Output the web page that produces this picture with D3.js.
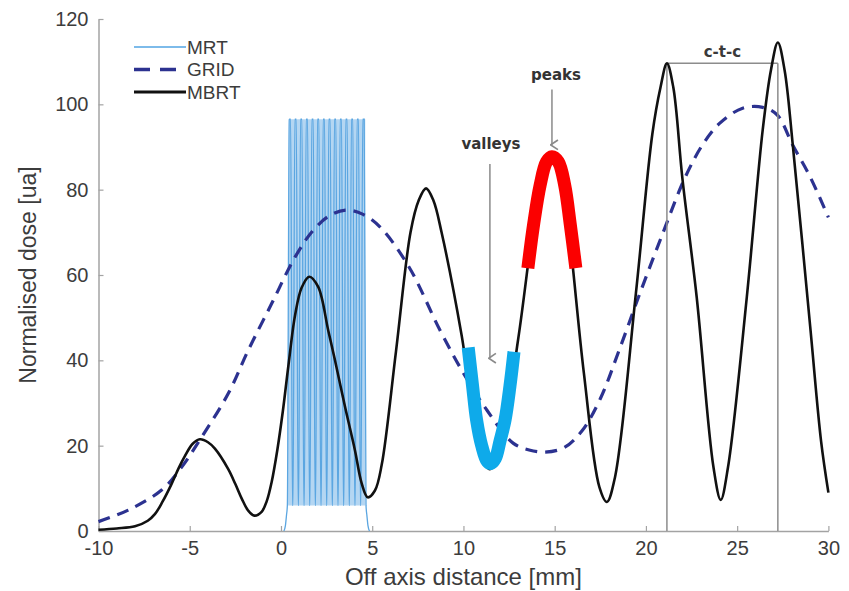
<!DOCTYPE html>
<html>
<head>
<meta charset="utf-8">
<script src="https://d3js.org/d3.v7.min.js"></script>
<style>
  body { margin: 0; background: #fff; }
  svg { display: block; }
</style>
</head>
<body>
<div id="chart"></div>
<script>
// Axis ticks
const xTicks = [-10, -5, 0, 5, 10, 15, 20, 25, 30];
const yTicks = [0, 20, 40, 60, 80, 100, 120];

// MBRT profile (black): off axis distance [mm] / dose
const mbrtX = [-10, -9, -8, -7.3, -6.9, -6.5, -6.0, -5.6, -5.26, -4.85, -4.44, -4.0, -3.62, -2.89, -2.5, -2.15, -1.8, -1.46,
  -1.06, -0.78, -0.51, -0.2, 0.1, 0.4, 0.77, 1.13, 1.55, 2.04, 2.59, 2.96, 3.51, 4.05, 4.42, 4.75,
  5.15, 5.52, 6.3, 7.1, 7.55, 7.95, 8.35, 8.8, 9.9, 10.9, 11.45, 12.0, 13.0, 14.0, 14.45, 14.85,
  15.25, 15.7, 16.6, 17.45, 17.86, 18.3, 19.45, 20.35, 20.8, 21.15, 21.5, 22.0, 22.78, 23.7, 24.1,
  24.5, 25.53, 26.4, 26.85, 27.23, 27.6, 28.05, 29.0, 29.6, 30];
const mbrtDose = [0.3, 0.6, 1.1, 2.4, 4, 6.8, 11, 14.8, 17.6, 20.4, 21.5, 20.8, 19.3, 14.5, 11, 7.6, 4.8, 3.6,
  4.5, 7, 11.5, 19, 28, 38.5, 50.5, 57, 59.6, 57.2, 47, 40, 29.1, 19, 11.2, 7.9,
  9.5, 15.5, 42, 70, 77.5, 80.3, 77.5, 70, 45.9, 18.5, 14.5, 19, 45, 76.6, 85.4, 88,
  84.5, 73, 37, 10.3, 6.8, 12.5, 55.7, 93, 104, 109.6, 104, 82.6, 54.9, 15, 7.3,
  15, 54.9, 94, 108, 114.5, 108, 90.4, 48, 21, 9];

// GRID profile (dashed)
const gridX = [-10, -8.37, -6.54, -5.44, -4.35, -2.89, -1.79, -0.51, 0.77, 1.77, 2.7, 3.6, 4.5, 5.42, 7.0,
  8.71, 10.0, 11.29, 12.72, 13.6, 14.47, 15.5, 16.5, 17.5, 18.5, 19.67, 20.9, 22.13, 23.1, 24.05,
  25.3, 26.4, 27.2, 28.05, 29.0, 30];
const gridDose = [2.2, 4.9, 9.6, 15, 22, 32.2, 42.4, 53.3, 64.2, 70.5, 74, 75.2, 74.2, 71.3, 62,
  47.1, 37, 28.3, 20.6, 19, 18.5, 19.5, 23.5, 31, 42, 55.7, 69.5, 82.7, 90.5, 95.6,
  99.1, 99.3, 97.5, 90.4, 83, 73.5];

// MRT microbeams (light blue)
const mrtCentres = [0.49, 0.80, 1.11, 1.42, 1.73, 2.04, 2.35, 2.66, 2.97, 3.28, 3.59, 3.90, 4.21, 4.52];
const mrtPeakDose = 96.5;
const mrtValleyDose = 6;
const mrtFootLeft = [[0.16, 0], [0.24, 1.2], [0.3, 3.6], [0.35, 6]];
const mrtFootRight = [[4.66, 6], [4.71, 3.6], [4.77, 1.2], [4.85, 0]];

// Hand-drawn highlights
const peakMark = [[13.53, 61.6], [13.85, 72], [14.2, 81], [14.55, 86.5], [14.85, 87.7], [15.2, 86.5],
  [15.55, 81], [15.85, 72], [16.16, 61.6]];
const valleyMark = [[10.26, 43], [10.5, 34], [10.72, 26], [11.0, 20], [11.3, 16.3], [11.5, 15.8],
  [11.75, 17], [12.0, 21], [12.28, 26], [12.55, 34], [12.77, 42]];

// Centre-to-centre markers
const ctcPeaks = [21.15, 27.23];
const ctcLevel = 109.6;

const W = 849, H = 591;
const margin = { top: 19, right: 20.6, bottom: 60, left: 98.5 };
const textColor = '#3c3c3c';
const axisColor = '#a3a3a3';

const svg = d3.select('#chart')
  .append('svg')
  .attr('width', W)
  .attr('height', H)
  .style('font-family', '"Liberation Sans", Arial, sans-serif');

const x = d3.scaleLinear().domain([-10, 30]).range([margin.left, W - margin.right]);
const y = d3.scaleLinear().domain([0, 120]).range([H - margin.bottom, margin.top]);

// arrow marker
svg.append('defs').append('marker')
  .attr('id', 'arr')
  .attr('markerUnits', 'userSpaceOnUse')
  .attr('markerWidth', 12).attr('markerHeight', 12)
  .attr('refX', 5).attr('refY', 8)
  .attr('orient', 'auto-start-reverse')
  .attr('viewBox', '0 0 10 10')
  .append('path')
  .attr('d', 'M1,3 L5,9 L9,3')
  .attr('fill', 'none')
  .attr('stroke', '#8a8a8a')
  .attr('stroke-width', 1.4);

// Axes (ticks point inwards, plain hyphen for negatives)
const xAxis = svg.append('g')
  .attr('transform', `translate(0,${y(0)})`)
  .call(d3.axisBottom(x).tickValues(xTicks).tickFormat(d => String(d))
    .tickSizeInner(-5).tickSizeOuter(0).tickPadding(10));
const yAxis = svg.append('g')
  .attr('transform', `translate(${x(-10)},0)`)
  .call(d3.axisLeft(y).tickValues(yTicks).tickFormat(d => String(d))
    .tickSizeInner(-5).tickSizeOuter(0).tickPadding(10));

[xAxis, yAxis].forEach(g => {
  g.select('.domain').attr('stroke', axisColor).attr('stroke-width', 1.5);
  g.selectAll('.tick line').attr('stroke', axisColor).attr('stroke-width', 1.2);
  g.selectAll('.tick text')
    .attr('fill', textColor)
    .style('font-size', '20px')
    .style('font-family', '"Liberation Sans", Arial, sans-serif');
});

// Axis titles
svg.append('text')
  .attr('x', x(10))
  .attr('y', 585)
  .attr('text-anchor', 'middle')
  .attr('fill', textColor)
  .style('font-size', '24px')
  .text('Off axis distance [mm]');

svg.append('text')
  .attr('transform', `translate(36,${y(60)}) rotate(-90)`)
  .attr('text-anchor', 'middle')
  .attr('fill', textColor)
  .style('font-size', '23px')
  .text('Normalised dose [ua]');

// MRT: envelope fill then the spikes
const mrtPoints = [...mrtFootLeft];
mrtCentres.forEach(c => {
  mrtPoints.push([c - 0.14, mrtValleyDose], [c - 0.04, mrtPeakDose], [c + 0.04, mrtPeakDose], [c + 0.14, mrtValleyDose]);
});
mrtFootRight.forEach(p => mrtPoints.push(p));

const mrtExtent = d3.extent(mrtCentres);
svg.append('path')
  .datum([mrtExtent[0] - 0.1, mrtExtent[1] + 0.1])
  .attr('d', d3.area()
    .x(d => x(d))
    .y0(y(mrtValleyDose))
    .y1(y(mrtPeakDose)))
  .attr('fill', '#b4d6f2');

svg.append('path')
  .datum(mrtPoints)
  .attr('d', d3.line().x(d => x(d[0])).y(d => y(d[1])).curve(d3.curveMonotoneX))
  .attr('fill', 'none')
  .attr('stroke', '#5ba6e1')
  .attr('stroke-width', 1.3);

const smooth = d3.line().x(d => x(d[0])).y(d => y(d[1])).curve(d3.curveCatmullRom.alpha(0.5));

// GRID dashed
const gridData = gridX.map((v, i) => [v, gridDose[i]]);
svg.append('path')
  .datum(gridData)
  .attr('d', smooth)
  .attr('fill', 'none')
  .attr('stroke', '#2c3290')
  .attr('stroke-width', 3.2)
  .attr('stroke-dasharray', '12,8');

// c-t-c guides
ctcPeaks.forEach(p => {
  svg.append('line')
    .attr('x1', x(p)).attr('x2', x(p))
    .attr('y1', y(ctcLevel)).attr('y2', y(0))
    .attr('stroke', '#8c8c8c')
    .attr('stroke-width', 1.5);
});
svg.append('line')
  .attr('x1', x(ctcPeaks[0])).attr('x2', x(ctcPeaks[1]))
  .attr('y1', y(ctcLevel)).attr('y2', y(ctcLevel))
  .attr('stroke', '#8c8c8c')
  .attr('stroke-width', 1.5);
svg.append('text')
  .attr('x', x(d3.mean(ctcPeaks)))
  .attr('y', y(ctcLevel) - 6)
  .attr('text-anchor', 'middle')
  .attr('fill', '#3a3a3a')
  .style('font-family', '"DejaVu Sans", sans-serif')
  .style('font-weight', 'bold')
  .style('font-size', '15px')
  .text('c-t-c');

// MBRT black
const mbrtData = mbrtX.map((v, i) => [v, mbrtDose[i]]);
svg.append('path')
  .datum(mbrtData)
  .attr('d', smooth)
  .attr('fill', 'none')
  .attr('stroke', '#111')
  .attr('stroke-width', 2.6);

// valleys / peaks notes with arrows
const notes = [
  { text: 'valleys', x: 11.45, yText: 89.5, yFrom: 86, yTo: 40.5 },
  { text: 'peaks', x: 14.85, yText: 105.8, yFrom: 103.5, yTo: 90.5 }
];
notes.forEach(n => {
  svg.append('text')
    .attr('x', x(n.x) + (n.text === 'peaks' ? 4 : 1))
    .attr('y', y(n.yText))
    .attr('text-anchor', 'middle')
    .attr('fill', '#333')
    .style('font-family', '"DejaVu Sans", sans-serif')
    .style('font-weight', 'bold')
    .style('font-size', '15px')
    .text(n.text);
  svg.append('line')
    .attr('x1', x(n.x)).attr('x2', x(n.x))
    .attr('y1', y(n.yFrom)).attr('y2', y(n.yTo))
    .attr('stroke', '#8a8a8a')
    .attr('stroke-width', 1.5)
    .attr('marker-end', 'url(#arr)');
});

// hand drawn highlight strokes
const markLine = d3.line().x(d => x(d[0])).y(d => y(d[1])).curve(d3.curveCatmullRom);
svg.append('path')
  .datum(peakMark)
  .attr('d', markLine)
  .attr('fill', 'none')
  .attr('stroke', '#fb0000')
  .attr('stroke-width', 13);
svg.append('path')
  .datum(valleyMark)
  .attr('d', markLine)
  .attr('fill', 'none')
  .attr('stroke', '#0eaaea')
  .attr('stroke-width', 13)
  .attr('stroke-linejoin', 'round');

// Legend
const legend = svg.append('g').attr('transform', 'translate(134,47)');
const legendItems = [
  { name: 'MRT', color: '#7dbbea', width: 2, dash: null },
  { name: 'GRID', color: '#2c3290', width: 3.5, dash: '16,10' },
  { name: 'MBRT', color: '#111', width: 3, dash: null }
];
legendItems.forEach((d, i) => {
  const g = legend.append('g').attr('transform', `translate(0,${i * 22.5})`);
  g.append('line')
    .attr('x1', 0).attr('x2', 52)
    .attr('stroke', d.color)
    .attr('stroke-width', d.width)
    .attr('stroke-dasharray', d.dash);
  g.append('text')
    .attr('x', 53)
    .attr('dy', '0.36em')
    .attr('fill', textColor)
    .style('font-size', '19px')
    .text(d.name);
});
</script>
</body>
</html>
